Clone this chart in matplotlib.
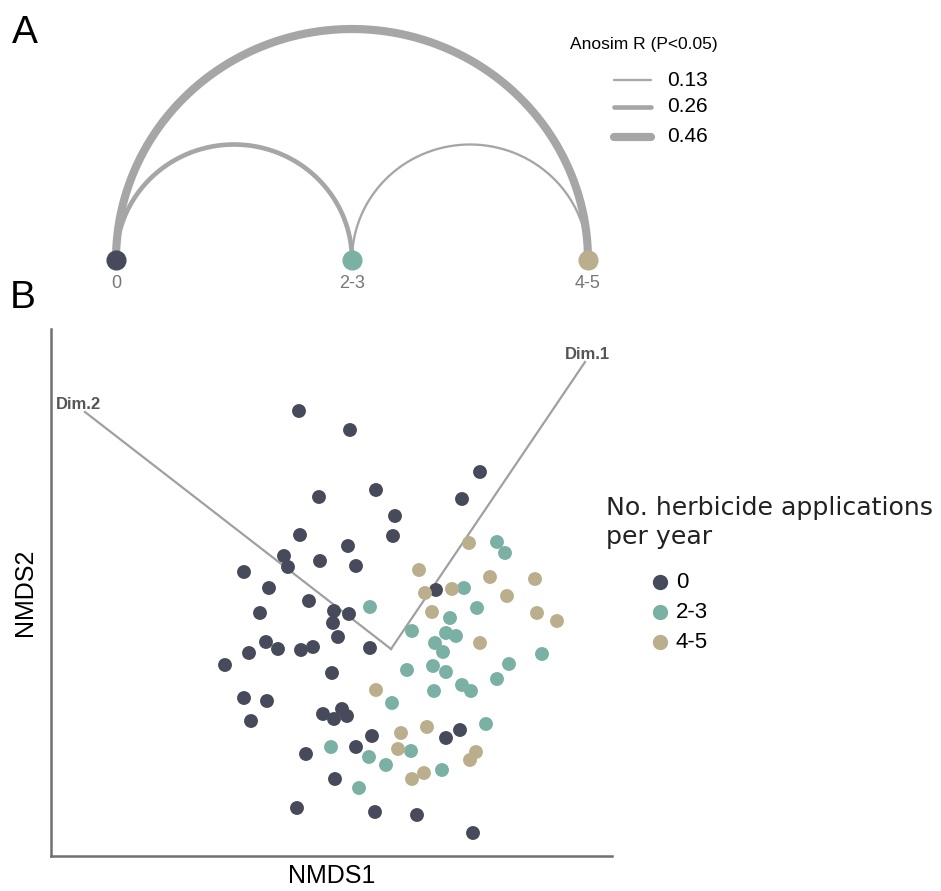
import numpy as np
import matplotlib.pyplot as plt
from matplotlib.lines import Line2D

plt.rcParams['font.family'] = ['Liberation Sans', 'DejaVu Sans']

W, H = 941, 891

# ---- data ----
groups = ['0', '2-3', '4-5']
colors = ['#474a5a', '#7bb0a5', '#baae8d']

# pairwise anosim R between groups (only significant ones)
pairs = [(0, 2), (0, 1), (1, 2)]
anosim_r = [0.46, 0.26, 0.13]
legend_r = [0.13, 0.26, 0.46]

# NMDS scores per group
x_0 = [-0.92, -0.41, -0.15, -0.72, 0.04, 0.71, 0.89, -0.91, 0.02, -0.43, -1.07, -1.03,
       -0.71, -0.35, -1.47, -1.22, -0.82, -1.31, -0.57, -0.42, -0.58, 0.45, -0.53, -1.25,
       -1.13, -0.90, -0.78, -0.21, -1.42, -1.66, -0.59, -1.47, -1.24, -1.40, -0.68, -0.49,
       -0.57, -0.44, -0.19, -0.35, 0.55, 0.69, -0.85, -0.56, -0.94, -0.16, 0.26, 0.82]
y_0 = [2.38, 2.19, 1.59, 1.52, 1.33, 1.50, 1.77, 1.14, 1.13, 1.03, 0.93, 0.82,
       0.88, 0.83, 0.77, 0.61, 0.48, 0.36, 0.38, 0.35, 0.26, 0.59, 0.12, 0.07,
       0.00, -0.01, 0.02, 0.01, -0.04, -0.16, -0.24, -0.49, -0.52, -0.72, -0.65, -0.60,
       -0.70, -0.67, -0.87, -0.98, -0.89, -0.81, -1.05, -1.30, -1.59, -1.63, -1.66, -1.84]

x_23 = [1.06, 1.14, 0.73, -0.21, 0.86, 0.59, 0.21, 0.55, 0.65, 0.44, 0.52, 1.51, 1.18, 0.16,
        0.42, 0.55, 1.06, 0.71, 0.80, 0.43, 0.01, 0.95, -0.60, -0.22, -0.05, 0.20, 0.51, -0.32]
y_23 = [1.07, 0.96, 0.61, 0.42, 0.41, 0.31, 0.18, 0.16, 0.13, 0.06, -0.03, -0.05, -0.15, -0.21,
        -0.17, -0.23, -0.30, -0.36, -0.42, -0.42, -0.54, -0.75, -0.98, -1.08, -1.16, -1.02, -1.21, -1.39]

x_45 = [0.78, 0.28, 0.99, 1.44, 0.34, 0.61, 1.16, 0.41, 1.46, 1.66, 0.89, -0.15, 0.10, 0.36,
        0.07, 0.85, 0.79, 0.33, 0.21]
y_45 = [1.06, 0.79, 0.72, 0.70, 0.56, 0.60, 0.53, 0.37, 0.36, 0.28, 0.06, -0.41, -0.84, -0.78,
        -1.00, -1.03, -1.11, -1.24, -1.30]

# environmental fit vectors
vec_names = ['Dim.1', 'Dim.2']
vec_x = [1.94, -3.06]
vec_y = [2.87, 2.37]

fig = plt.figure(figsize=(W / 100, H / 100), dpi=100)


def fx(px):
    return px / W


def fy(py):
    return 1 - py / H


# ---- panel A: arc diagram ----
ax_a = fig.add_axes([fx(116), fy(260), fx(588) - fx(116), fy(29) - fy(260)])
ax_a.set_xlim(0, 2)
ax_a.set_ylim(0, 1)
ax_a.axis('off')

t = np.linspace(0, np.pi, 200)
for (i, j), r in zip(pairs, anosim_r):
    c = (i + j) / 2
    rad = (j - i) / 2
    ax_a.plot(c + rad * np.cos(t), rad * np.sin(t), color='#a6a6a6', lw=12.8 * r,
              solid_capstyle='butt', clip_on=False, zorder=1)

for k, g in enumerate(groups):
    ax_a.plot(k, 0, 'o', ms=13.5, color=colors[k], clip_on=False, zorder=3)
    ax_a.annotate(g, (k, 0), xytext=(0, -17), textcoords='offset points',
                  ha='center', va='center', fontsize=13, color='#777777')

fig.text(fx(12), fy(33), 'A', fontsize=28, va='center', ha='left')

# anosim legend
fig.text(fx(570), fy(44), 'Anosim R (P<0.05)', fontsize=12.5, va='center', ha='left')
for r, yy in zip(legend_r, [80, 107, 137]):
    fig.add_artist(Line2D([fx(614), fx(651)], [fy(yy), fy(yy)], lw=12.8 * r,
                          color='#a6a6a6', solid_capstyle='round', transform=fig.transFigure))
    fig.text(fx(667), fy(yy), f'{r:.2f}', fontsize=15, va='center', ha='left')

# ---- panel B: NMDS ----
ax_b = fig.add_axes([fx(51), fy(856), fx(612) - fx(51), fy(329) - fy(856)])
ax_b.set_xlim(-3.40, 2.21)
ax_b.set_ylim(-2.07, 3.20)

for xs, ys, c, g in zip([x_0, x_23, x_45], [y_0, y_23, y_45], colors, groups):
    ax_b.scatter(xs, ys, s=100, color=c, edgecolors='none', label=g, zorder=3)

for name, vx, vy in zip(vec_names, vec_x, vec_y):
    ax_b.plot([0, vx], [0, vy], color='#a0a0a0', lw=1.6, zorder=2)
    dx = 2 if vx > 0 else -5
    ax_b.annotate(name, (vx, vy), xytext=(dx, 0), textcoords='offset points',
                  ha='center', va='bottom', fontsize=12, fontweight='bold', color='#555555')

ax_b.set_xticks([])
ax_b.set_yticks([])
for s in ['top', 'right']:
    ax_b.spines[s].set_visible(False)
for s in ['left', 'bottom']:
    ax_b.spines[s].set_color('#707070')
    ax_b.spines[s].set_linewidth(1.8)
ax_b.set_xlabel('NMDS1', fontsize=18, labelpad=6)
ax_b.set_ylabel('NMDS2', fontsize=18, labelpad=10)

fig.text(fx(10), fy(298), 'B', fontsize=28, va='center', ha='left')

# group legend
fig.text(fx(606), fy(508), 'No. herbicide applications', fontsize=18.2, va='center',
         ha='left', family='DejaVu Sans', color='#222222')
fig.text(fx(606), fy(537), 'per year', fontsize=18.2, va='center', ha='left',
         family='DejaVu Sans', color='#222222')
for g, c, yy in zip(groups, colors, [582, 612, 642]):
    fig.add_artist(Line2D([fx(660)], [fy(yy)], marker='o', ms=10, color=c, lw=0,
                          transform=fig.transFigure))
    fig.text(fx(676), fy(yy), g, fontsize=16, va='center', ha='left')

fig.savefig('out.png', dpi=100)
